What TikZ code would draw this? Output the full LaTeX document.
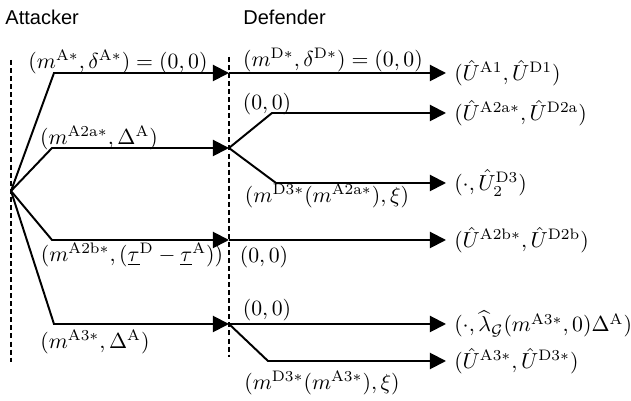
\documentclass[tikz,border=0pt]{standalone}
\usepackage{amsmath,amssymb}
\usepackage{fontspec}
\newfontfamily\playerfont{Liberation Sans}
\usepackage{tikz}
\usetikzlibrary{arrows.meta}

\begin{document}
\begin{tikzpicture}[x=0.46pt,y=-0.46pt,
  move/.style={line width=0.9pt,-{Triangle[length=7.4pt,width=7.4pt]}},
  stage/.style={line width=0.7pt,dash pattern=on 2.3pt off 1.4pt},
  player/.style={anchor=west,inner sep=0pt,font=\playerfont\fontsize{9.2}{11}\selectfont},
  payoff/.style={anchor=west,inner xsep=3.6pt,inner ysep=0pt},
  lbl/.style={inner sep=0pt}]
\useasboundingbox (0,0) rectangle (631,401);
\node[player] (att) at (5,17) {Attacker};
\node[player] (def) at (243,17) {Defender};
\draw[stage] (11,60) -- (11,362);
\draw[stage] (229,57) -- (229,357);
\coordinate (root) at (11,191);
\coordinate (k1) at (54,73);
\coordinate (k2) at (52,148);
\coordinate (k3) at (52,240);
\coordinate (k4) at (54,324);
\coordinate (d1) at (229,73);
\coordinate (d2) at (229,148);
\coordinate (d3) at (229,240);
\coordinate (d4) at (229,324);
\coordinate (k2a) at (272,113);
\coordinate (k2b) at (276,183);
\coordinate (k4b) at (268,361);
\node[payoff] (u1) at (446,73) {$(\hat{U}^{\mathrm{A1}},\hat{U}^{\mathrm{D1}})$};
\node[payoff] (u2a) at (446,113) {$(\hat{U}^{\mathrm{A2a}*},\hat{U}^{\mathrm{D2a}})$};
\node[payoff] (u2b) at (446,183) {$(\cdot,\hat{U}_2^{\mathrm{D3}})$};
\node[payoff] (u3) at (446,240) {$(\hat{U}^{\mathrm{A2b}*},\hat{U}^{\mathrm{D2b}})$};
\node[payoff] (u4a) at (446,324) {$(\cdot,\widehat{\lambda}_{\mathcal{G}}(m^{\mathrm{A3}*},0)\Delta^{\mathrm{A}})$};
\node[payoff] (u4b) at (446,361) {$(\hat{U}^{\mathrm{A3}*},\hat{U}^{\mathrm{D3}*})$};
\draw[move] (root) -- (k1) -- (d1);
\draw[move] (root) -- (k2) -- (d2);
\draw[move] (root) -- (k3) -- (d3);
\draw[move] (root) -- (k4) -- (d4);
\draw[move] (d1) -- (u1.west);
\draw[move] (d2) -- (k2a) -- (u2a.west);
\draw[move] (d2) -- (k2b) -- (u2b.west);
\draw[move] (d3) -- (u3.west);
\draw[move] (d4) -- (u4a.west);
\draw[move] (d4) -- (k4b) -- (u4b.west);
\node[lbl] (l1) at (118,62) {$(m^{\mathrm{A}*},\delta^{\mathrm{A}*})=(0,0)$};
\node[lbl] (l2) at (99,138) {$(m^{\mathrm{A2a}*},\Delta^{\mathrm{A}})$};
\node[lbl] (l3) at (132,255) {$(m^{\mathrm{A2b}*},(\underline{\tau}^{\mathrm{D}}-\underline{\tau}^{\mathrm{A}}))$};
\node[lbl] (l4) at (95,342) {$(m^{\mathrm{A3}*},\Delta^{\mathrm{A}})$};
\node[lbl] (r1) at (333,60) {$(m^{\mathrm{D}*},\delta^{\mathrm{D}*})=(0,0)$};
\node[lbl] (r2a) at (267,104) {$(0,0)$};
\node[lbl] (r2b) at (327,196) {$(m^{\mathrm{D3}*}(m^{\mathrm{A2a}*}),\xi)$};
\node[lbl] (r3) at (264,257) {$(0,0)$};
\node[lbl] (r4a) at (267,310) {$(0,0)$};
\node[lbl] (r4b) at (322,383) {$(m^{\mathrm{D3}*}(m^{\mathrm{A3}*}),\xi)$};
\end{tikzpicture}
\end{document}
